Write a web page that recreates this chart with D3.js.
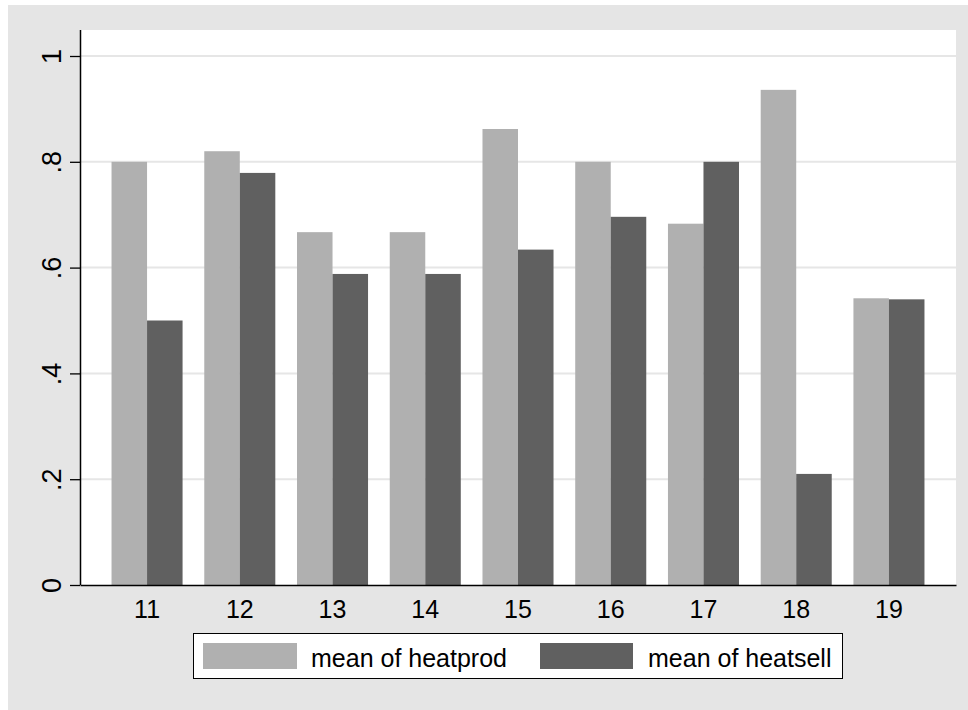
<!DOCTYPE html>
<html><head><meta charset="utf-8">
<script src="https://cdn.jsdelivr.net/npm/d3@7"></script>
<style>body{margin:0;background:#fff} svg{display:block} text{font-family:"Liberation Sans",Arial,Helvetica,sans-serif;fill:#000}</style>
</head><body><svg id="c" width="968" height="710"></svg>
<script>
const categories = ["11","12","13","14","15","16","17","18","19"];
const seriesNames = ["mean of heatprod","mean of heatsell"];
const heatprod = [0.800,0.820,0.667,0.667,0.862,0.800,0.683,0.936,0.542];
const heatsell = [0.500,0.779,0.588,0.588,0.634,0.696,0.800,0.210,0.540];
const yTicks = [0,0.2,0.4,0.6,0.8,1];
const yTickLabels = ["0",".2",".4",".6",".8","1"];
const colors = ["#b0b0b0","#606060"];

const series = [heatprod, heatsell];
const svg = d3.select("#c");
const L = 80, R = 956, T = 30, B = 585;

svg.append("rect").attr("x",8).attr("y",5).attr("width",960).attr("height",705).attr("fill","#e5e5e5");
svg.append("rect").attr("x",L).attr("y",T).attr("width",R-L).attr("height",B-T).attr("fill","#fff");

const y = d3.scaleLinear().domain([0,1]).range([B,56]);
const x = d3.scaleBand().domain(categories).range([L,R]).paddingInner(0.234).paddingOuter(0.34);
const xs = d3.scaleBand().domain(d3.range(series.length)).range([0,x.bandwidth()]);

// gridlines
svg.append("g").selectAll("line").data(yTicks.filter(d=>d>0)).join("line")
  .attr("x1",L).attr("x2",R).attr("y1",d=>y(d)).attr("y2",d=>y(d))
  .attr("stroke","#e6e6e6").attr("stroke-width",2);

// bars
const g = svg.append("g");
categories.forEach((c,i)=>{
  series.forEach((s,j)=>{
    g.append("rect")
      .attr("x",x(c)+xs(j)).attr("width",xs.bandwidth())
      .attr("y",y(s[i])).attr("height",y(0)-y(s[i]))
      .attr("fill",colors[j]);
  });
});

// y axis
const ya = svg.append("g").attr("transform",`translate(${L},0)`)
  .call(d3.axisLeft(y).tickValues(yTicks).tickSize(10).tickSizeOuter(0).tickFormat((d,i)=>yTickLabels[i]));
ya.select(".domain").attr("d",`M0.5,${T}V${B}`).attr("stroke","#000").attr("stroke-width",1.5);
ya.selectAll(".tick line").attr("stroke","#000").attr("stroke-width",1.3);
ya.selectAll(".tick text").attr("font-size",27).attr("text-anchor","middle")
  .attr("x",null).attr("dy",null)
  .attr("transform","translate(-19,0) rotate(-90)").attr("y",0);

// x axis
const xa = svg.append("g").attr("transform",`translate(0,${B})`)
  .call(d3.axisBottom(x).tickSize(0).tickSizeOuter(0));
xa.select(".domain").attr("stroke","#000").attr("stroke-width",1.5);
xa.selectAll(".tick text").attr("font-size",25).attr("dy",null).attr("y",33);

// legend
const lg = svg.append("g");
lg.append("rect").attr("x",193.5).attr("y",633.5).attr("width",649).attr("height",45)
  .attr("fill","#fff").attr("stroke","#000").attr("stroke-width",1);
const legX = [203, 540], legW = [94, 93], txtX = [311, 648];
seriesNames.forEach((n,j)=>{
  lg.append("rect").attr("x",legX[j]).attr("y",643).attr("width",legW[j]).attr("height",26).attr("fill",colors[j]);
  lg.append("text").attr("x",txtX[j]).attr("y",667).attr("font-size",25).text(n);
});
</script></body></html>
